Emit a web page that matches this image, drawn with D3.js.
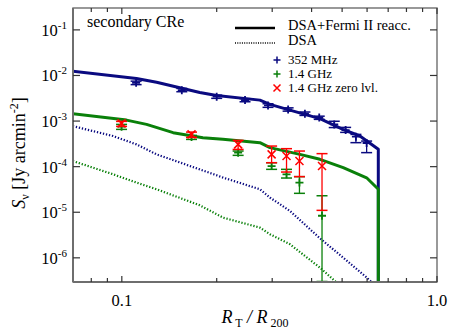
<!DOCTYPE html>
<html>
<head>
<meta charset="utf-8">
<script src="https://cdn.jsdelivr.net/npm/d3@7"></script>
<style>
  body { margin: 0; background: #fff; }
  svg { display: block; font-family: "Liberation Serif", "DejaVu Serif", serif; }
</style>
</head>
<body>
<svg id="chart" width="451" height="331"></svg>
<script>
// model curves (x = R_T / R_200, y = S_nu in Jy arcmin^-2)
var blueSolidX = [0.0699, 0.1113, 0.1289, 0.1768, 0.1998, 0.2742, 0.2951, 0.3414, 0.4251, 0.5029, 0.5694, 0.6513, 0.6513];
var blueSolidY = [1.24e-2, 8.6e-3, 7.1e-3, 4.25e-3, 3.65e-3, 2.88e-3, 2.32e-3, 1.74e-3, 1.13e-3, 6.6e-4, 4.7e-4, 2.4e-4, 1e-8];

var greenSolidX = [0.0699, 0.1035, 0.1198, 0.1455, 0.1808, 0.2092, 0.2742, 0.2951, 0.3673, 0.4251, 0.504, 0.598, 0.6513, 0.6513];
var greenSolidY = [1.45e-3, 1.05e-3, 8.45e-4, 5.56e-4, 4.32e-4, 3.97e-4, 3.36e-4, 2.61e-4, 1.86e-4, 1.45e-4, 9.5e-5, 5.7e-5, 3.2e-5, 1e-8];

var blueDotX = [0.0699, 0.0938, 0.1113, 0.1289, 0.1768, 0.2097, 0.2742, 0.2951, 0.3414, 0.4251, 0.511, 0.598, 0.6545];
var blueDotY = [7.76e-4, 4.69e-4, 3.08e-4, 1.86e-4, 8.7e-5, 5.75e-5, 3.19e-5, 2.1e-5, 1.07e-5, 2.69e-6, 9.3e-7, 3.7e-7, 2.06e-7];

var greenDotX = [0.0699, 0.0938, 0.1113, 0.1289, 0.1768, 0.2097, 0.2742, 0.2951, 0.3414, 0.4251, 0.4745, 0.5108];
var greenDotY = [1.33e-4, 6.8e-5, 4.47e-5, 3.19e-5, 1.42e-5, 7.6e-6, 4.6e-6, 3.3e-6, 1.99e-6, 6.1e-7, 3.1e-7, 1.6e-7];

// observations
var mhzX  = [0.111, 0.155, 0.200, 0.246, 0.291, 0.337, 0.381, 0.423, 0.472, 0.513, 0.553, 0.598];
var mhzY  = [6.9e-3, 4.77e-3, 3.42e-3, 2.88e-3, 2.2e-3, 1.8e-3, 1.45e-3, 1.19e-3, 8.45e-4, 6.34e-4, 4.54e-4, 3.3e-4];
var mhzLo = [6.3e-3, 4.4e-3, 3.15e-3, 2.65e-3, 2.0e-3, 1.65e-3, 1.33e-3, 1.09e-3, 7.2e-4, 5.65e-4, 3.36e-4, 2.03e-4];
var mhzHi = [7.5e-3, 5.2e-3, 3.7e-3, 3.1e-3, 2.4e-3, 1.95e-3, 1.58e-3, 1.28e-3, 9.9e-4, 7.26e-4, 5.1e-4, 3.64e-4];

var ghzX  = [0.0998, 0.1664, 0.2339, 0.2987, 0.3331, 0.3661, 0.4317];
var ghzY  = [7.52e-4, 4.45e-4, 2.03e-4, 1.03e-4, 6.79e-5, 4.47e-5, 8.37e-6];
var ghzLo = [6.57e-4, 3.96e-4, 1.77e-4, 8.73e-5, 5.63e-5, 2.60e-5, 3.0e-7];
var ghzHi = [8.45e-4, 4.85e-4, 2.20e-4, 1.22e-4, 8.73e-5, 6.04e-5, 2.30e-5];

var zeroY  = [8.89e-4, 5.10e-4, 3.08e-4, 1.86e-4, 1.71e-4, 1.33e-4, 1.03e-4];
var zeroLo = [7.64e-4, 4.39e-4, 2.39e-4, 1.22e-4, 7.62e-5, 6.04e-5, 1.10e-5];
var zeroHi = [9.83e-4, 5.73e-4, 3.77e-4, 2.83e-4, 2.48e-4, 2.20e-4, 1.93e-4];

// ticks
var xMajorTicks = [0.1, 1.0];
var xMajorLabels = ["0.1", "1.0"];
var xMinorTicks = [0.08, 0.09, 0.2, 0.3, 0.4, 0.5, 0.6, 0.7, 0.8, 0.9];
var yTicks = [1e-1, 1e-2, 1e-3, 1e-4, 1e-5, 1e-6];
var yExponents = ["-1", "-2", "-3", "-4", "-5", "-6"];

var navy = "#0a0a80", green = "#0a800a", red = "#ff0000", axisCol = "#6e6e6e";

var margin = { left: 73, right: 14, top: 8, bottom: 49 };
var W = 451, H = 331;
var iw = W - margin.left - margin.right, ih = H - margin.top - margin.bottom;

var svg = d3.select("#chart");
var g = svg.append("g").attr("transform", "translate(" + margin.left + "," + margin.top + ")");

var x = d3.scaleLog().domain([0.07, 1.0]).range([0, iw]);
var y = d3.scaleLog().domain([Math.pow(10, -6.53), Math.pow(10, -0.52)]).range([ih, 0]);

g.append("clipPath").attr("id", "clip")
  .append("rect").attr("width", iw).attr("height", ih);

var zip = function(xs, ys) { return xs.map(function(v, i) { return [v, ys[i]]; }); };
var line = d3.line().x(function(d) { return x(d[0]); }).y(function(d) { return y(d[1]); });

var curves = g.append("g").attr("clip-path", "url(#clip)");
curves.append("path").datum(zip(blueDotX, blueDotY)).attr("d", line)
  .attr("fill", "none").attr("stroke", navy).attr("stroke-width", 2.2).attr("stroke-dasharray", "1.3,1.8");
curves.append("path").datum(zip(greenDotX, greenDotY)).attr("d", line)
  .attr("fill", "none").attr("stroke", green).attr("stroke-width", 2.2).attr("stroke-dasharray", "1.3,1.8");
curves.append("path").datum(zip(blueSolidX, blueSolidY)).attr("d", line)
  .attr("fill", "none").attr("stroke", navy).attr("stroke-width", 3).attr("stroke-linejoin", "round");
curves.append("path").datum(zip(greenSolidX, greenSolidY)).attr("d", line)
  .attr("fill", "none").attr("stroke", green).attr("stroke-width", 3).attr("stroke-linejoin", "round");

// error bars + markers
var drawSeries = function(xs, ys, lo, hi, color, marker) {
  var s = g.append("g").attr("clip-path", "url(#clip)");
  var capW = 5.5, m = 4;
  xs.forEach(function(xv, i) {
    var px = x(xv), py = y(ys[i]);
    var yl = Math.min(y(lo[i]), ih - 0.5), yh = y(hi[i]);
    s.append("line").attr("x1", px).attr("x2", px).attr("y1", yl).attr("y2", yh)
      .attr("stroke", color).attr("stroke-width", 1.3);
    [yl, yh].forEach(function(cy) {
      s.append("line").attr("x1", px - capW).attr("x2", px + capW).attr("y1", cy).attr("y2", cy)
        .attr("stroke", color).attr("stroke-width", 1.5);
    });
    if (marker === "x") {
      s.append("path").attr("d", "M" + (px - m) + "," + (py - m) + "L" + (px + m) + "," + (py + m) +
          "M" + (px - m) + "," + (py + m) + "L" + (px + m) + "," + (py - m))
        .attr("stroke", color).attr("stroke-width", 1.5);
    } else {
      s.append("path").attr("d", "M" + (px - m) + "," + py + "L" + (px + m) + "," + py +
          "M" + px + "," + (py - m) + "L" + px + "," + (py + m))
        .attr("stroke", color).attr("stroke-width", 1.8);
    }
  });
};
drawSeries(mhzX, mhzY, mhzLo, mhzHi, navy, "+");
drawSeries(ghzX, ghzY, ghzLo, ghzHi, green, "+");
drawSeries(ghzX, zeroY, zeroLo, zeroHi, red, "x");

// frame + ticks
g.append("rect").attr("width", iw).attr("height", ih)
  .attr("fill", "none").attr("stroke", axisCol).attr("stroke-width", 1.4);
g.append("line").attr("x1", 0).attr("x2", 0).attr("y1", 0).attr("y2", ih)
  .attr("stroke", axisCol).attr("stroke-width", 2);
g.append("line").attr("x1", 0).attr("x2", iw).attr("y1", ih).attr("y2", ih)
  .attr("stroke", axisCol).attr("stroke-width", 2);

var ticks = g.append("g").attr("stroke", "#333").attr("stroke-width", 1.2);
xMajorTicks.concat(xMinorTicks).forEach(function(t) {
  var len = xMajorTicks.indexOf(t) >= 0 ? 6 : 4;
  ticks.append("line").attr("x1", x(t)).attr("x2", x(t)).attr("y1", ih).attr("y2", ih - len);
  ticks.append("line").attr("x1", x(t)).attr("x2", x(t)).attr("y1", 0).attr("y2", len);
});
yTicks.forEach(function(t) {
  ticks.append("line").attr("x1", 0).attr("x2", 7).attr("y1", y(t)).attr("y2", y(t));
  ticks.append("line").attr("x1", iw).attr("x2", iw - 7).attr("y1", y(t)).attr("y2", y(t));
});

// tick labels
xMajorTicks.forEach(function(t, i) {
  svg.append("text").attr("x", margin.left + x(t)).attr("y", 306)
    .attr("text-anchor", "middle").attr("font-size", 16.5).text(xMajorLabels[i]);
});
yTicks.forEach(function(t, i) {
  var tx = svg.append("text").attr("x", 67).attr("y", margin.top + y(t) + 6)
    .attr("text-anchor", "end").attr("font-size", 16.5);
  tx.append("tspan").text("10");
  tx.append("tspan").attr("font-size", 11).attr("dy", -7).text(yExponents[i]);
});

// axis titles
var xt = svg.append("text").attr("x", margin.left + iw / 2).attr("y", 323)
  .attr("text-anchor", "middle").attr("font-size", 18);
xt.append("tspan").attr("font-style", "italic").text("R");
xt.append("tspan").attr("font-size", 12).attr("dy", 4).text(" T");
xt.append("tspan").attr("dy", -4).attr("font-style", "italic").text(" / R");
xt.append("tspan").attr("font-size", 12).attr("dy", 4).text(" 200");

var yt = svg.append("text").attr("transform", "translate(25," + (margin.top + ih / 2 + 8) + ") rotate(-90)")
  .attr("text-anchor", "middle").attr("font-size", 18);
yt.append("tspan").attr("font-style", "italic").text("S");
yt.append("tspan").attr("font-size", 12).attr("dy", 4).text("ν");
yt.append("tspan").attr("dy", -4).text(" [Jy arcmin");
yt.append("tspan").attr("font-size", 12).attr("dy", -7).text("-2");
yt.append("tspan").attr("dy", 7).text("]");

// annotation + legend
svg.append("text").attr("x", 87).attr("y", 27).attr("font-size", 16).text("secondary CRe");

var leg = svg.append("g");
leg.append("line").attr("x1", 235).attr("x2", 275).attr("y1", 28).attr("y2", 28)
  .attr("stroke", "#000").attr("stroke-width", 2.5);
leg.append("line").attr("x1", 235).attr("x2", 275).attr("y1", 43).attr("y2", 43)
  .attr("stroke", "#000").attr("stroke-width", 1.3).attr("stroke-dasharray", "1,1.3");
var legendLabels = ["DSA+Fermi II reacc.", "DSA", "352 MHz", "1.4 GHz", "1.4 GHz zero lvl."];
var legendY = [29.5, 45, 63.5, 77.5, 91.5];
var legendSize = [14.5, 14.5, 13, 13, 13];
legendLabels.forEach(function(t, i) {
  leg.append("text").attr("x", 288).attr("y", legendY[i]).attr("font-size", legendSize[i]).text(t);
});
var lm = 3.5;
leg.append("path").attr("d", "M" + (277 - lm) + ",60L" + (277 + lm) + ",60M277," + (60 - lm) + "L277," + (60 + lm))
  .attr("stroke", navy).attr("stroke-width", 1.5);
leg.append("path").attr("d", "M" + (277 - lm) + ",74L" + (277 + lm) + ",74M277," + (74 - lm) + "L277," + (74 + lm))
  .attr("stroke", green).attr("stroke-width", 1.5);
leg.append("path").attr("d", "M" + (277 - lm) + "," + (88 - lm) + "L" + (277 + lm) + "," + (88 + lm) +
    "M" + (277 - lm) + "," + (88 + lm) + "L" + (277 + lm) + "," + (88 - lm))
  .attr("stroke", red).attr("stroke-width", 1.5);
</script>
</body>
</html>
